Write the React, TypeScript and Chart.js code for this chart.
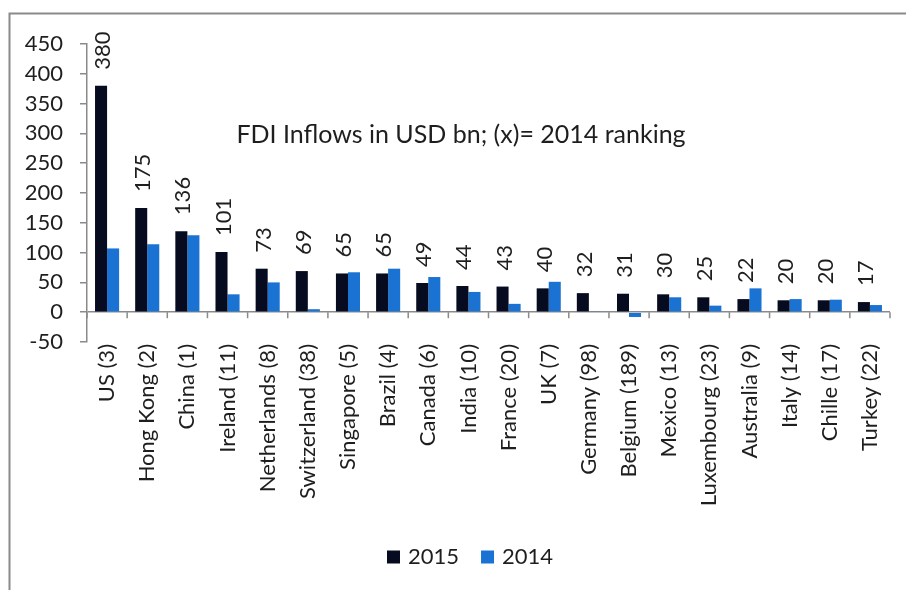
import React, { useEffect, useRef } from "react";
import { Chart, registerables } from "chart.js";

Chart.register(...registerables);

const categories = [
  "US (3)", "Hong Kong (2)", "China (1)", "Ireland (11)", "Netherlands (8)",
  "Switzerland (38)", "Singapore (5)", "Brazil (4)", "Canada (6)", "India (10)",
  "France (20)", "UK (7)", "Germany (98)", "Belgium (189)", "Mexico (13)",
  "Luxembourg (23)", "Australia (9)", "Italy (14)", "Chille (17)", "Turkey (22)",
];
const values2015 = [380, 175, 136, 101, 73, 69, 65, 65, 49, 44, 43, 40, 32, 31, 30, 25, 22, 20, 20, 17];
const values2014 = [107, 114, 129, 30, 50, 5, 67, 73, 59, 34, 14, 51, 1, -8, 25, 11, 40, 22, 21, 12];
const yTickMin = -50;
const yTickMax = 450;
const yTickStep = 50;
const titleText = "FDI Inflows in USD bn; (x)= 2014 ranking";

const FONT = "Lato, 'Open Sans', sans-serif";
const TEXT = "#1e1e1e";
const AXIS = "#8a8a8a";

const decorPlugin = {
  id: "decor",
  afterDatasetsDraw(chart: any) {
    const { ctx, scales } = chart;
    const x = scales.x;
    const y = scales.y;
    const y0 = y.getPixelForValue(0);
    ctx.save();
    // category tick marks on zero line
    ctx.strokeStyle = AXIS;
    ctx.lineWidth = 1.5;
    for (let i = 0; i <= categories.length; i++) {
      const px = x.getPixelForValue(i - 0.5);
      ctx.beginPath();
      ctx.moveTo(px, y0);
      ctx.lineTo(px, y0 + 6);
      ctx.stroke();
    }
    // value labels
    const meta = chart.getDatasetMeta(0);
    ctx.fillStyle = TEXT;
    ctx.font = `22px ${FONT}`;
    ctx.textAlign = "left";
    ctx.textBaseline = "middle";
    meta.data.forEach((bar: any, i: number) => {
      ctx.save();
      ctx.translate(bar.x + 2, bar.y - 16);
      ctx.rotate(-Math.PI / 2);
      ctx.fillText(String(values2015[i]), 0, 0);
      ctx.restore();
    });
    // title
    ctx.font = `25px ${FONT}`;
    ctx.textAlign = "center";
    ctx.fillText(titleText, 461, 135);
    // legend
    ctx.font = `22px ${FONT}`;
    ctx.textAlign = "left";
    let lx = 387;
    const ly = 557;
    chart.data.datasets.forEach((ds: any) => {
      ctx.fillStyle = ds.backgroundColor;
      ctx.fillRect(lx, ly - 6.5, 13, 13);
      ctx.fillStyle = TEXT;
      ctx.fillText(ds.label, lx + 21, ly);
      lx += 21 + ctx.measureText(ds.label).width + 22;
    });
    // outer border (top and left)
    ctx.strokeStyle = AXIS;
    ctx.lineWidth = 2;
    ctx.beginPath();
    ctx.moveTo(906, 13.5);
    ctx.lineTo(9.5, 13.5);
    ctx.lineTo(9.5, 590);
    ctx.stroke();
    ctx.restore();
  },
};

export default function App() {
  const ref = useRef<HTMLCanvasElement | null>(null);
  useEffect(() => {
    if (!ref.current) return;
    const chart = new Chart(ref.current, {
      type: "bar",
      data: {
        labels: categories,
        datasets: [
          { label: "2015", data: values2015, backgroundColor: "#060b20", categoryPercentage: 0.6, barPercentage: 1 },
          { label: "2014", data: values2014, backgroundColor: "#1a72d2", categoryPercentage: 0.6, barPercentage: 1 },
        ],
      },
      options: {
        animation: false,
        responsive: false,
        maintainAspectRatio: false,
        layout: { padding: { top: 44, right: 16, bottom: 0, left: 0 } },
        plugins: { legend: { display: false }, tooltip: { enabled: false }, title: { display: false } },
        scales: {
          x: {
            grid: { display: false },
            border: { display: false },
            ticks: {
              autoSkip: false,
              maxRotation: 90,
              minRotation: 90,
              padding: -6,
              color: TEXT,
              font: { family: FONT, size: 22 },
            },
            afterFit(scale: any) {
              scale.height = 248;
            },
          },
          y: {
            min: yTickMin,
            max: yTickMax,
            ticks: {
              stepSize: yTickStep,
              color: TEXT,
              padding: 17,
              font: { family: FONT, size: 22 },
            },
            grid: {
              color: (c: any) => (c.tick && c.tick.value === 0 ? AXIS : "transparent"),
              lineWidth: 1.5,
              tickColor: AXIS,
              tickLength: 7,
            },
            border: { display: true, color: AXIS, width: 1.5 },
            afterFit(scale: any) {
              scale.width = 87;
            },
          },
        },
      },
      plugins: [decorPlugin],
    });
    return () => chart.destroy();
  }, []);
  return (
    <div style={{ position: "fixed", left: 0, top: 0, width: 906, height: 590, background: "#fff" }}>
      <canvas ref={ref} width={906} height={590} style={{ width: 906, height: 590 }} />
    </div>
  );
}
